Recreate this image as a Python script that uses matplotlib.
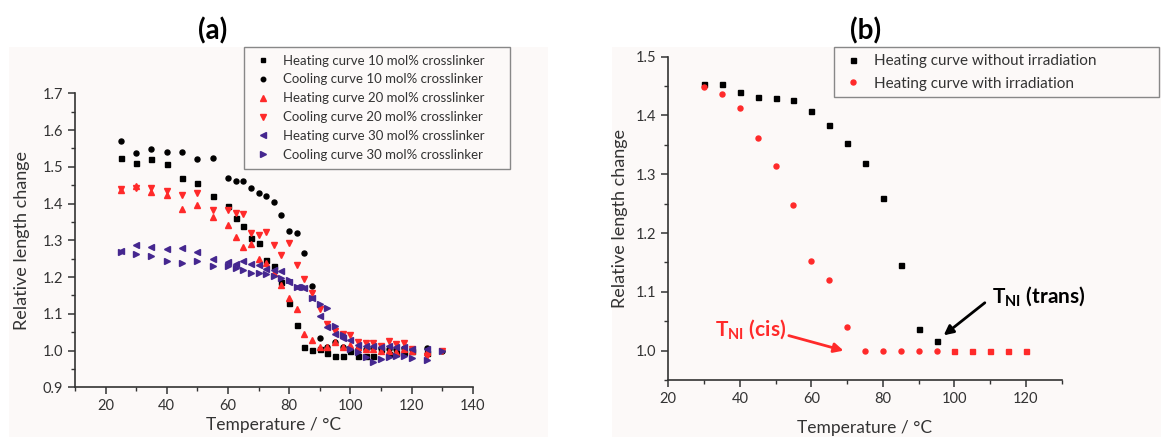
import matplotlib
matplotlib.use("Agg")
import matplotlib.pyplot as plt
from matplotlib.patches import Rectangle
from matplotlib.ticker import MultipleLocator

plt.rcParams["font.family"] = ["Lato", "DejaVu Sans"]
plt.rcParams["mathtext.fontset"] = "custom"
plt.rcParams["mathtext.rm"] = "Lato"
plt.rcParams["mathtext.bf"] = "Lato:bold"

# ---- panel (a): tre tværbinderkoncentrationer, opvarmning og afkøling ----
T_heat = [25, 30, 35, 40, 45, 50, 55, 60, 62.5, 65, 67.5, 70, 72.5, 75, 77.5, 80,
          82.5, 85, 87.5, 90, 92.5, 95, 97.5, 100, 102.5, 105, 107.5, 110, 112.5,
          115, 117.5, 120, 125]
T_cool = T_heat + [130]

heat10 = [1.523, 1.511, 1.520, 1.507, 1.470, 1.456, 1.421, 1.392, 1.361, 1.338,
          1.307, 1.292, 1.247, 1.229, 1.187, 1.130, 1.069, 1.011, 1.001, 1.004,
          0.993, 0.984, 0.986, 0.998, 0.985, 0.984, 0.985, 1.003, 0.990, 0.992,
          0.996, 0.998, 0.994]
cool10 = [1.569, 1.538, 1.549, 1.539, 1.540, 1.520, 1.525, 1.470, 1.462, 1.461,
          1.441, 1.430, 1.421, 1.405, 1.370, 1.325, 1.321, 1.265, 1.175, 1.035,
          1.010, 1.023, 1.010, 1.002, 1.005, 1.003, 1.008, 1.006, 1.004, 1.004,
          1.007, 1.005, 1.007, 1.000]
heat20 = [1.436, 1.447, 1.431, 1.422, 1.384, 1.395, 1.364, 1.342, 1.308, 1.283,
          1.290, 1.248, 1.238, 1.212, 1.179, 1.143, 1.112, 1.045, 1.028, 1.009,
          1.009, 1.023, 1.009, 1.015, 1.009, 1.005, 1.003, 1.000, 0.998, 0.997,
          1.004, 1.000, 0.995]
cool20 = [1.440, 1.443, 1.443, 1.434, 1.424, 1.429, 1.383, 1.383, 1.374, 1.371,
          1.320, 1.314, 1.322, 1.288, 1.259, 1.292, 1.233, 1.195, 1.156, 1.114,
          1.073, 1.053, 1.045, 1.043, 1.023, 1.020, 1.020, 1.012, 1.025, 1.018,
          1.020, 1.005, 0.986, 1.000]
heat30 = [1.272, 1.288, 1.282, 1.275, 1.278, 1.268, 1.250, 1.242, 1.236, 1.243,
          1.235, 1.233, 1.223, 1.218, 1.217, 1.186, 1.172, 1.170, 1.143, 1.095,
          1.064, 1.045, 1.034, 1.030, 1.015, 1.013, 1.013, 1.010, 1.013, 1.010,
          1.010, 1.005, 1.005]
cool30 = [1.268, 1.262, 1.256, 1.245, 1.239, 1.243, 1.231, 1.231, 1.225, 1.218,
          1.211, 1.211, 1.208, 1.204, 1.198, 1.191, 1.174, 1.172, 1.144, 1.127,
          1.115, 1.068, 1.041, 1.005, 0.995, 0.983, 0.968, 0.976, 0.982, 0.985,
          0.986, 0.979, 0.973, 1.000]

# ---- panel (b): med og uden bestråling ----
T_dark = [30, 35, 40, 45, 50, 55, 60, 65, 70, 75, 80, 85, 90, 95]
dark = [1.453, 1.453, 1.440, 1.432, 1.429, 1.426, 1.407, 1.383, 1.354, 1.319,
        1.260, 1.145, 1.037, 1.016]
T_irr = [30, 35, 40, 45, 50, 55, 60, 65, 70, 75, 80, 85, 90, 95]
irr = [1.448, 1.437, 1.413, 1.362, 1.314, 1.247, 1.153, 1.120, 1.040, 1.000,
       1.000, 1.000, 1.000, 1.000]
T_irr_hale = [100, 105, 110, 115, 120]
irr_hale = [1.000, 1.000, 1.000, 1.000, 1.000]

SORT = "black"
ROED = "#ff2a2a"
LILLA = "#45278f"
GRAA = "#333333"
BAGGRUND = "#fcf9f8"

W, H = 1161, 437
fig = plt.figure(figsize=(W / 100, H / 100), dpi=100)


def boks(x0, y0, x1, y1, **kw):
    """Rektangel i figurens pixels (fra øverste venstre hjørne)."""
    fig.patches.append(Rectangle((x0 / W, 1 - y1 / H), (x1 - x0) / W, (y1 - y0) / H,
                                 transform=fig.transFigure, **kw))


# svagt tonet baggrund bag hvert panel
boks(9, 47, 548, 437, facecolor=BAGGRUND, edgecolor="none", zorder=-10)
boks(612, 47, 1161, 437, facecolor=BAGGRUND, edgecolor="none", zorder=-10)
# legend-rammer (bredere end selve teksten, som i originalen)
boks(244.3, 46.7, 510, 169.3, facecolor="none", edgecolor="#888888", lw=1.0, zorder=5)
boks(834.3, 46.7, 1159, 96.7, facecolor="none", edgecolor="#888888", lw=1.0, zorder=5)


def pynt_akse(akse):
    akse.set_facecolor("none")
    for side in ("top", "right"):
        akse.spines[side].set_visible(False)
    for side in ("left", "bottom"):
        akse.spines[side].set_color(GRAA)
        akse.spines[side].set_linewidth(1.2)
    akse.tick_params(which="major", direction="out", length=5, width=1.1,
                     color=GRAA, labelcolor=GRAA, labelsize=10.5)
    akse.tick_params(which="minor", direction="out", length=3, width=1.0, color=GRAA)


ms = 3.6
ax1 = fig.add_axes([75 / W, 1 - 387.3 / H, (472.7 - 75) / W, (387.3 - 93.3) / H])
ax1.plot(T_heat, heat10, "s", color=SORT, ms=ms, ls="none",
         label="Heating curve 10 mol% crosslinker")
ax1.plot(T_cool, cool10, "o", color=SORT, ms=ms, ls="none",
         label="Cooling curve 10 mol% crosslinker")
ax1.plot(T_heat, heat20, "^", color=ROED, ms=ms + 0.6, ls="none",
         label="Heating curve 20 mol% crosslinker")
ax1.plot(T_cool, cool20, "v", color=ROED, ms=ms + 0.6, ls="none",
         label="Cooling curve 20 mol% crosslinker")
ax1.plot(T_heat, heat30, "<", color=LILLA, ms=ms + 0.6, ls="none",
         label="Heating curve 30 mol% crosslinker")
ax1.plot(T_cool, cool30, ">", color=LILLA, ms=ms + 0.6, ls="none",
         label="Cooling curve 30 mol% crosslinker")
ax1.set_xlim(10, 140)
ax1.set_ylim(0.9, 1.7)
ax1.set_xticks([20, 40, 60, 80, 100, 120, 140])
ax1.xaxis.set_minor_locator(MultipleLocator(10))
ax1.yaxis.set_major_locator(MultipleLocator(0.1))
ax1.yaxis.set_minor_locator(MultipleLocator(0.05))
ax1.yaxis.set_major_formatter(plt.FuncFormatter(lambda v, p: f"{v:.1f}"))
pynt_akse(ax1)
ax1.set_ylabel("Relative length change", fontsize=13, color=GRAA, labelpad=9)
ax1.set_xlabel("Temperature / °C", fontsize=12.5, color=GRAA, labelpad=3)
leg1 = ax1.legend(loc="upper left", bbox_to_anchor=(244.3 / W, 1 - 46.7 / H),
                  bbox_transform=fig.transFigure, fontsize=9.5, frameon=False,
                  borderaxespad=0, handletextpad=0.7, handlelength=1.6,
                  labelspacing=0.52, borderpad=0.6, markerscale=0.9)
for t in leg1.get_texts():
    t.set_color(GRAA)
fig.text(213 / W, 1 - 31 / H, "(a)", fontsize=20, fontweight="bold",
         ha="center", va="center")

ax2 = fig.add_axes([668.3 / W, 1 - 380 / H, (1061.7 - 668.3) / W, (380 - 56.7) / H])
ax2.plot(T_dark, dark, "s", color=SORT, ms=ms, ls="none",
         label="Heating curve without irradiation")
ax2.plot(T_irr, irr, "o", color=ROED, ms=ms, ls="none",
         label="Heating curve with irradiation")
ax2.plot(T_irr_hale, irr_hale, "s", color=ROED, ms=ms, ls="none")
ax2.set_xlim(20, 130)
ax2.set_ylim(0.95, 1.5)
ax2.set_xticks([20, 40, 60, 80, 100, 120])
ax2.xaxis.set_minor_locator(MultipleLocator(10))
ax2.set_yticks([1.0, 1.1, 1.2, 1.3, 1.4, 1.5])
ax2.yaxis.set_minor_locator(MultipleLocator(0.05))
ax2.yaxis.set_major_formatter(plt.FuncFormatter(lambda v, p: f"{v:.1f}"))
pynt_akse(ax2)
ax2.set_ylabel("Relative length change", fontsize=13, color=GRAA, labelpad=6)
ax2.set_xlabel("Temperature / °C", fontsize=12.5, color=GRAA, labelpad=10)
leg2 = ax2.legend(loc="upper left", bbox_to_anchor=(834.3 / W, 1 - 46.7 / H),
                  bbox_transform=fig.transFigure, fontsize=11, frameon=False,
                  borderaxespad=0, handletextpad=0.7, handlelength=1.4,
                  labelspacing=0.55, borderpad=0.5)
for t in leg2.get_texts():
    t.set_color(GRAA)
fig.text(866 / W, 1 - 31 / H, "(b)", fontsize=20, fontweight="bold",
         ha="center", va="center")

ax2.annotate(r"$\mathbf{T}_{\mathbf{NI}}$ (cis)", xy=(69, 1.0), xytext=(33, 1.035),
             fontsize=15, fontweight="bold", color=ROED, va="center", ha="left",
             arrowprops=dict(arrowstyle="-|>", color=ROED, lw=2,
                             shrinkA=0, shrinkB=0, mutation_scale=14,
                             relpos=(1.0, 0.3)))
ax2.annotate(r"$\mathbf{T}_{\mathbf{NI}}$ (trans)", xy=(97, 1.026), xytext=(110.5, 1.091),
             fontsize=15, fontweight="bold", color=SORT, va="center", ha="left",
             arrowprops=dict(arrowstyle="-|>", color=SORT, lw=2,
                             shrinkA=4, shrinkB=0, mutation_scale=14,
                             relpos=(0.0, 0.5)))

fig.savefig("out.png", dpi=100)
